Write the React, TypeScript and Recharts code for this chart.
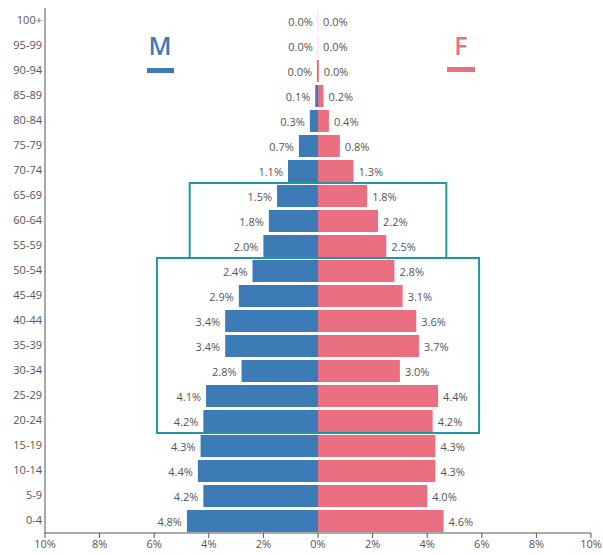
import React from 'react';
import { BarChart, Bar, XAxis, YAxis, LabelList, ReferenceArea } from 'recharts';

const ageGroups = ['100+', '95-99', '90-94', '85-89', '80-84', '75-79', '70-74', '65-69', '60-64', '55-59', '50-54', '45-49', '40-44', '35-39', '30-34', '25-29', '20-24', '15-19', '10-14', '5-9', '0-4'];
const maleValues = [0.004, 0.004, 0.03, 0.1, 0.3, 0.7, 1.1, 1.5, 1.8, 2.0, 2.4, 2.9, 3.4, 3.4, 2.8, 4.1, 4.2, 4.3, 4.4, 4.2, 4.8];
const femaleValues = [0.004, 0.004, 0.03, 0.2, 0.4, 0.8, 1.3, 1.8, 2.2, 2.5, 2.8, 3.1, 3.6, 3.7, 3.0, 4.4, 4.2, 4.3, 4.3, 4.0, 4.6];
const xTicks = [-10, -8, -6, -4, -2, 0, 2, 4, 6, 8, 10];
const highlightBoxes = [
  { from: '65-69', to: '55-59', half: 4.7 },
  { from: '50-54', to: '20-24', half: 5.9 },
];

const MALE = '#3d7bb6';
const FEMALE = '#ea6f80';
const TEXT = '#555';
const FONT = '"Open Sans", sans-serif';

const data = ageGroups.map((age, i) => ({ age, male: -maleValues[i], female: femaleValues[i] }));

const fmt = (v: any) => {
  const n = Array.isArray(v) ? v[1] - v[0] : Number(v);
  return Math.abs(n).toFixed(1) + '%';
};

const MaleLabel = (p: any) => {
  const x = Number(p.x), w = Number(p.width), y = Number(p.y), h = Number(p.height);
  const left = Math.min(x, x + w);
  return (
    <text x={left - 5} y={y + h / 2} textAnchor="end" dominantBaseline="central" fontSize={11} fill={TEXT} fontFamily={FONT}>
      {fmt(p.value)}
    </text>
  );
};

const FemaleLabel = (p: any) => {
  const x = Number(p.x), w = Number(p.width), y = Number(p.y), h = Number(p.height);
  const right = Math.max(x, x + w);
  return (
    <text x={right + 5} y={y + h / 2} textAnchor="start" dominantBaseline="central" fontSize={11} fill={TEXT} fontFamily={FONT}>
      {fmt(p.value)}
    </text>
  );
};

export default function App() {
  return (
    <div style={{ position: 'absolute', left: 0, top: 0, width: 603, height: 555, fontFamily: FONT, background: '#fff' }}>
      <BarChart
        width={603}
        height={555}
        data={data}
        layout="vertical"
        stackOffset="sign"
        margin={{ top: 8, right: 12, bottom: 0, left: 0 }}
      >
        <XAxis
          type="number"
          domain={[-10, 10]}
          ticks={xTicks}
          tickFormatter={(v: number) => Math.abs(v) + '%'}
          height={22}
          axisLine={{ stroke: TEXT }}
          tickLine={{ stroke: TEXT }}
          tickSize={5}
          tick={{ fill: TEXT, fontSize: 11, fontFamily: FONT }}
          allowDataOverflow
        />
        <YAxis
          type="category"
          dataKey="age"
          width={45}
          interval={0}
          axisLine={{ stroke: TEXT }}
          tickLine={false}
          tickSize={0}
          tickMargin={3}
          tick={{ fill: TEXT, fontSize: 11, fontFamily: FONT }}
        />
        <Bar dataKey="male" stackId="a" fill={MALE} barSize={22} isAnimationActive={false}>
          <LabelList dataKey="male" content={MaleLabel} />
        </Bar>
        <Bar dataKey="female" stackId="a" fill={FEMALE} barSize={22} isAnimationActive={false}>
          <LabelList dataKey="female" content={FemaleLabel} />
        </Bar>
        {highlightBoxes.map((b) => (
          <ReferenceArea
            key={b.from}
            x1={-b.half}
            x2={b.half}
            y1={b.from}
            y2={b.to}
            fill="none"
            fillOpacity={0}
            stroke="#2196a3"
            strokeWidth={2}
            ifOverflow="visible"
          />
        ))}
      </BarChart>
      <svg width={603} height={555} style={{ position: 'absolute', left: 0, top: 0, pointerEvents: 'none' }}>
        <text x={160} y={55} textAnchor="middle" fontSize={25} fontWeight={600} fill={MALE} fontFamily={FONT}>M</text>
        <rect x={147} y={68} width={27} height={5} fill={MALE} />
        <text x={461} y={55} textAnchor="middle" fontSize={25} fontWeight={600} fill={FEMALE} fontFamily={FONT}>F</text>
        <rect x={447} y={67} width={28} height={5} fill={FEMALE} />
      </svg>
    </div>
  );
}
